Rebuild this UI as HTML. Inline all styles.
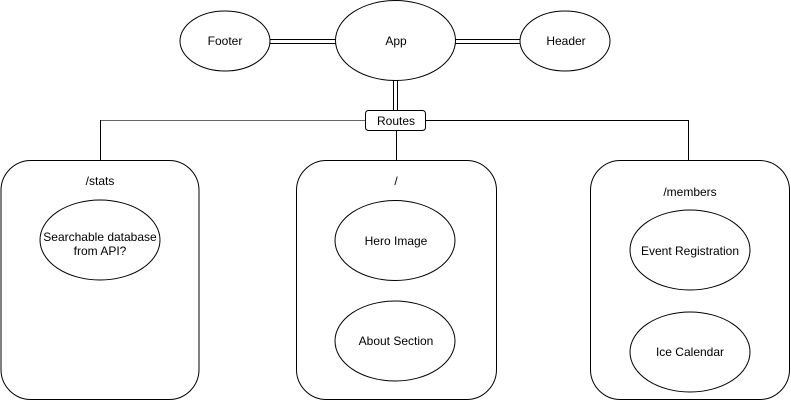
<!DOCTYPE html>
<html><head><meta charset="utf-8"><style>
html,body{margin:0;padding:0;background:#fff;}
svg{display:block;}
text{font-family:"Liberation Sans",sans-serif;font-size:12px;fill:#000;text-anchor:middle;}
</style></head><body>
<svg width="791" height="401" viewBox="0 0 791 401" xmlns="http://www.w3.org/2000/svg">
<g fill="none" stroke="#000" stroke-width="1">
<!-- double connectors -->
<line x1="270" y1="39.5" x2="336" y2="39.5"/><line x1="270" y1="43.5" x2="336" y2="43.5"/>
<line x1="455" y1="39.5" x2="521" y2="39.5"/><line x1="455" y1="43.5" x2="521" y2="43.5"/>
<line x1="393.5" y1="80" x2="393.5" y2="111"/><line x1="397.5" y1="80" x2="397.5" y2="111"/>
<!-- routes lines -->
<line x1="100" y1="120.5" x2="366" y2="120.5" stroke="#666"/>
<line x1="425" y1="120.5" x2="688.5" y2="120.5"/>
<line x1="100.5" y1="120" x2="100.5" y2="160"/>
<line x1="396.5" y1="130" x2="396.5" y2="160"/>
<line x1="688.5" y1="120" x2="688.5" y2="160"/>
<!-- top ellipses -->
<ellipse cx="225" cy="41" rx="45" ry="30" fill="#fff"/>
<ellipse cx="395.5" cy="40.5" rx="60" ry="40" fill="#fff"/>
<ellipse cx="565" cy="41" rx="45" ry="30" fill="#fff"/>
<rect x="365.5" y="110.5" width="60" height="20" rx="3" fill="#fff"/>
<!-- boxes -->
<rect x="1" y="160.5" width="198" height="239" rx="30"/>
<rect x="296.5" y="160.5" width="200" height="239" rx="30"/>
<rect x="590.5" y="160.5" width="199" height="239" rx="30"/>
<!-- inner ellipses -->
<ellipse cx="100" cy="240" rx="60" ry="40"/>
<ellipse cx="395" cy="240.5" rx="60" ry="40"/>
<ellipse cx="395" cy="341" rx="60" ry="40"/>
<ellipse cx="690" cy="250" rx="60" ry="40"/>
<ellipse cx="690" cy="352" rx="60" ry="40"/>
</g>
<text x="225" y="45">Footer</text>
<text x="396" y="45">App</text>
<text x="566" y="45">Header</text>
<text x="396" y="125">Routes</text>
<text x="100" y="185">/stats</text>
<text x="100" y="241">Searchable database</text>
<text x="100" y="255">from API?</text>
<text x="396" y="185">/</text>
<text x="396" y="245">Hero Image</text>
<text x="396" y="345">About Section</text>
<text x="690" y="196">/members</text>
<text x="690" y="255">Event Registration</text>
<text x="690" y="356">Ice Calendar</text>
</svg>
</body></html>
